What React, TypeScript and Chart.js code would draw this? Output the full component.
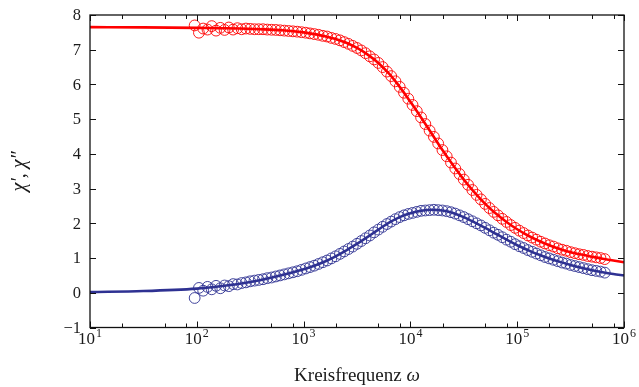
import React, { useEffect, useRef } from "react";
import { Chart, registerables } from "chart.js";

Chart.register(...registerables);

// ---- Fit curves (Kreisfrequenz ω, χ', χ'') ----
const fitOmega = [
  10, 31.62, 100, 158.5, 251.2, 398.1, 631.0,
  1000, 1259, 1585, 1995, 2512, 3162, 3981, 5012, 6310, 7943,
  10000, 12589, 15849, 19953, 25119, 31623, 39811, 50119, 63096, 79433,
  100000, 125893, 158489, 199526, 251189, 316228, 398107, 501187, 630957, 794328,
  1000000,
];
const fitChiReal = [
  7.65, 7.645, 7.63, 7.62, 7.61, 7.59, 7.56,
  7.5, 7.45, 7.39, 7.31, 7.2, 7.05, 6.86, 6.62, 6.31, 5.93,
  5.5, 5.05, 4.58, 4.11, 3.67, 3.26, 2.89, 2.56, 2.28, 2.04,
  1.83, 1.65, 1.5, 1.37, 1.26, 1.17, 1.1, 1.04, 0.98, 0.93,
  0.88,
];
const fitChiImag = [
  0.02, 0.05, 0.12, 0.18, 0.26, 0.37, 0.51,
  0.68, 0.78, 0.9, 1.05, 1.22, 1.41, 1.61, 1.82, 2.02, 2.18,
  2.29, 2.36, 2.39, 2.37, 2.3, 2.18, 2.03, 1.87, 1.7, 1.53,
  1.37, 1.23, 1.1, 0.99, 0.89, 0.8, 0.72, 0.65, 0.59, 0.54,
  0.5,
];

// ---- Measured points ----
const dataOmega = [
  95.5,
  104.7, 114.8, 125.9, 138.0, 151.4, 166.0, 182.0, 199.5, 218.8, 239.9, 263.0, 288.4, 316.2,
  346.7, 380.2, 416.9, 457.1, 501.2, 549.5, 602.6, 660.7, 724.4, 794.3, 871.0, 955.0,
  1047, 1148, 1259, 1380, 1514, 1660, 1820, 1995, 2188, 2399, 2630, 2884, 3162,
  3467, 3802, 4169, 4571, 5012, 5495, 6026, 6607, 7244, 7943, 8710, 9550,
  10471, 11482, 12589, 13804, 15136, 16596, 18197, 19953, 21878, 23988, 26303, 28840, 31623,
  34674, 38019, 41687, 45709, 50119, 54954, 60256, 66069, 72444, 79433, 87096, 95499,
  104713, 114815, 125893, 138038, 151356, 165959, 181970, 199526, 218776, 239883, 263027,
  288403, 316228, 346737, 380189, 416869, 457088, 501187, 549541, 602560, 660693,
];
const dataChiReal = [
  7.7,
  7.49, 7.61, 7.58, 7.68, 7.55, 7.63, 7.57, 7.64, 7.58, 7.62, 7.59, 7.61, 7.6,
  7.59, 7.59, 7.59, 7.58, 7.575, 7.57, 7.56, 7.55, 7.54, 7.53, 7.52, 7.505,
  7.49, 7.47, 7.45, 7.43, 7.4, 7.38, 7.34, 7.31, 7.27, 7.22, 7.17, 7.11, 7.05,
  6.98, 6.9, 6.81, 6.72, 6.62, 6.5, 6.37, 6.24, 6.09, 5.93, 5.76, 5.59,
  5.41, 5.23, 5.05, 4.86, 4.67, 4.49, 4.3, 4.11, 3.93, 3.75, 3.58, 3.42, 3.26,
  3.11, 2.96, 2.82, 2.69, 2.56, 2.44, 2.33, 2.23, 2.13, 2.04, 1.95, 1.87,
  1.79, 1.72, 1.65, 1.59, 1.53, 1.47, 1.42, 1.37, 1.33, 1.28, 1.24,
  1.21, 1.17, 1.14, 1.11, 1.09, 1.06, 1.04, 1.02, 1.0, 0.97,
];
const dataChiImag = [
  -0.15,
  0.14, 0.06, 0.17, 0.1, 0.2, 0.13, 0.21, 0.19, 0.25, 0.24, 0.28, 0.3, 0.33,
  0.35, 0.37, 0.39, 0.42, 0.44, 0.47, 0.5, 0.53, 0.56, 0.59, 0.62, 0.66,
  0.7, 0.74, 0.78, 0.83, 0.88, 0.93, 0.99, 1.05, 1.12, 1.19, 1.26, 1.33, 1.41,
  1.49, 1.57, 1.65, 1.74, 1.82, 1.9, 1.98, 2.05, 2.12, 2.18, 2.23, 2.27,
  2.3, 2.33, 2.36, 2.37, 2.38, 2.39, 2.38, 2.37, 2.35, 2.32, 2.28, 2.23, 2.18,
  2.12, 2.06, 2.0, 1.94, 1.87, 1.8, 1.73, 1.67, 1.6, 1.53, 1.47, 1.4,
  1.34, 1.29, 1.23, 1.18, 1.13, 1.08, 1.03, 0.99, 0.95, 0.91, 0.87,
  0.84, 0.8, 0.77, 0.74, 0.71, 0.68, 0.65, 0.63, 0.61, 0.58,
];

// ---- Axes ----
const xDecadeExponents = [1, 2, 3, 4, 5, 6];
const xMinorMultipliers = [2, 5, 8];
const yTickValues = [-1, 0, 1, 2, 3, 4, 5, 6, 7, 8];
const xTitle = "Kreisfrequenz ";
const xTitleSymbol = "ω";
const yTitle = "χ′, χ″";

const RED = "#ff0000";
const BLUE = "rgb(46,49,146)";
const FONT = '"Liberation Serif", "Times New Roman", serif';

const toXY = (xs: number[], ys: number[]) => xs.map((x, i) => ({ x, y: ys[i] }));

const framePlugin = {
  id: "framePlugin",
  afterDatasetsDraw(chart: any) {
    const { ctx, chartArea } = chart;
    const xs = chart.scales.x;
    const ys = chart.scales.y;
    const { left, right, top, bottom } = chartArea;
    ctx.save();
    ctx.strokeStyle = "#111";
    ctx.lineWidth = 1;
    // ticks
    ctx.beginPath();
    xDecadeExponents.forEach((e) => {
      const px = Math.round(xs.getPixelForValue(Math.pow(10, e))) + 0.5;
      ctx.moveTo(px, bottom);
      ctx.lineTo(px, bottom - 6);
      ctx.moveTo(px, top);
      ctx.lineTo(px, top + 6);
      if (e < 6) {
        xMinorMultipliers.forEach((m) => {
          const pm = Math.round(xs.getPixelForValue(m * Math.pow(10, e))) + 0.5;
          ctx.moveTo(pm, bottom);
          ctx.lineTo(pm, bottom - 4);
          ctx.moveTo(pm, top);
          ctx.lineTo(pm, top + 4);
        });
      }
    });
    yTickValues.forEach((v) => {
      const py = Math.round(ys.getPixelForValue(v)) + 0.5;
      ctx.moveTo(left, py);
      ctx.lineTo(left + 6, py);
      ctx.moveTo(right, py);
      ctx.lineTo(right - 6, py);
    });
    ctx.stroke();
    // frame
    ctx.lineWidth = 1.3;
    ctx.strokeRect(left, top, right - left, bottom - top);

    // y tick labels
    ctx.fillStyle = "#1a1a1a";
    ctx.font = `16.5px ${FONT}`;
    ctx.textAlign = "right";
    ctx.textBaseline = "middle";
    yTickValues.forEach((v) => {
      const py = ys.getPixelForValue(v);
      const label = v < 0 ? "\u2212" + Math.abs(v) : String(v);
      ctx.fillText(label, left - 9, py + 1);
    });

    // x tick labels 10^k
    ctx.textBaseline = "alphabetic";
    ctx.textAlign = "left";
    xDecadeExponents.forEach((e) => {
      const px = xs.getPixelForValue(Math.pow(10, e));
      ctx.font = `17px ${FONT}`;
      const wBase = ctx.measureText("10").width;
      ctx.font = `12px ${FONT}`;
      const wExp = ctx.measureText(String(e)).width;
      const x0 = px - (wBase + wExp + 1) / 2;
      ctx.font = `17px ${FONT}`;
      ctx.fillText("10", x0, bottom + 16.5);
      ctx.font = `12px ${FONT}`;
      ctx.fillText(String(e), x0 + wBase + 1, bottom + 9.5);
    });

    // x title
    ctx.font = `19px ${FONT}`;
    const w1 = ctx.measureText(xTitle).width;
    ctx.font = `italic 19px ${FONT}`;
    const w2 = ctx.measureText(xTitleSymbol).width;
    const cx = (left + right) / 2;
    const tx = cx - (w1 + w2) / 2;
    ctx.font = `19px ${FONT}`;
    ctx.fillText(xTitle, tx, 381);
    ctx.font = `italic 19px ${FONT}`;
    ctx.fillText(xTitleSymbol, tx + w1, 381);

    // y title
    ctx.save();
    ctx.translate(25, (top + bottom) / 2);
    ctx.rotate(-Math.PI / 2);
    ctx.font = `italic 20px ${FONT}`;
    ctx.textAlign = "center";
    ctx.textBaseline = "alphabetic";
    ctx.fillText(yTitle, 0, 0);
    ctx.restore();

    ctx.restore();
  },
};

export default function App() {
  const canvasRef = useRef<HTMLCanvasElement | null>(null);

  useEffect(() => {
    const canvas = canvasRef.current;
    if (!canvas) return;
    const chart = new Chart(canvas, {
      type: "scatter",
      data: {
        datasets: [
          {
            label: "χ' fit",
            data: toXY(fitOmega, fitChiReal),
            showLine: true,
            borderColor: RED,
            borderWidth: 2.6,
            pointRadius: 0,
            cubicInterpolationMode: "monotone",
            order: 0,
          },
          {
            label: "χ'' fit",
            data: toXY(fitOmega, fitChiImag),
            showLine: true,
            borderColor: BLUE,
            borderWidth: 2.6,
            pointRadius: 0,
            cubicInterpolationMode: "monotone",
            order: 1,
          },
          {
            label: "χ'",
            data: toXY(dataOmega, dataChiReal),
            showLine: false,
            pointStyle: "circle",
            pointRadius: 5.4,
            pointBorderWidth: 0.9,
            pointBorderColor: RED,
            pointBackgroundColor: "rgba(0,0,0,0)",
            order: 2,
          },
          {
            label: "χ''",
            data: toXY(dataOmega, dataChiImag),
            showLine: false,
            pointStyle: "circle",
            pointRadius: 5.4,
            pointBorderWidth: 0.9,
            pointBorderColor: BLUE,
            pointBackgroundColor: "rgba(0,0,0,0)",
            order: 3,
          },
        ],
      },
      options: {
        animation: false,
        responsive: false,
        maintainAspectRatio: false,
        layout: { padding: { left: 0, right: 15, top: 15, bottom: 0 } },
        plugins: {
          legend: { display: false },
          tooltip: { enabled: false },
          title: { display: false },
        },
        scales: {
          x: {
            type: "logarithmic",
            min: 10,
            max: 1000000,
            ticks: { display: false },
            grid: { display: false, drawTicks: false },
            border: { display: false },
            afterFit: (s: any) => {
              s.height = 59.5;
            },
          },
          y: {
            type: "linear",
            min: -1,
            max: 8,
            ticks: { display: false },
            grid: { display: false, drawTicks: false },
            border: { display: false },
            afterFit: (s: any) => {
              s.width = 90;
            },
          },
        },
      },
      plugins: [framePlugin],
    });
    return () => chart.destroy();
  }, []);

  return (
    <div style={{ position: "absolute", left: 0, top: 0, width: 639, height: 387, background: "#fff" }}>
      <canvas ref={canvasRef} width={639} height={387} style={{ width: 639, height: 387, display: "block" }} />
    </div>
  );
}
